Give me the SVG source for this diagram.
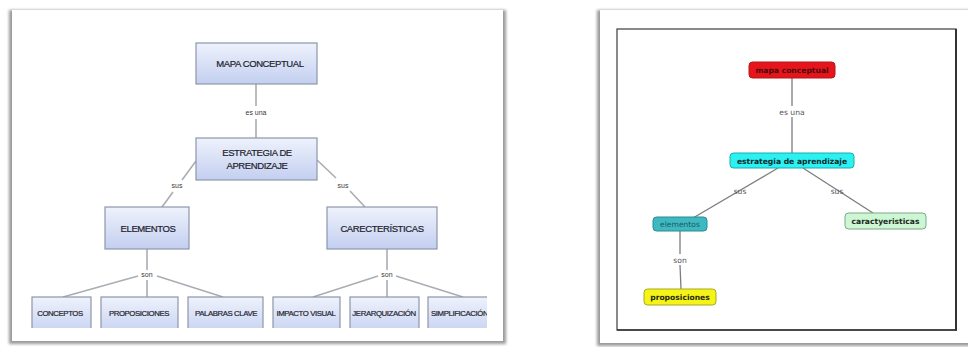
<svg xmlns="http://www.w3.org/2000/svg" width="968" height="347" viewBox="0 0 968 347">
  <defs>
    <linearGradient id="boxFill" x1="0" y1="0" x2="0" y2="1">
      <stop offset="0" stop-color="#eef2fc"/>
      <stop offset="1" stop-color="#c3cff0"/>
    </linearGradient>
    <filter id="cardShadow" x="-5%" y="-5%" width="110%" height="110%">
      <feGaussianBlur stdDeviation="1.6"/>
    </filter>
    <clipPath id="leftClip">
      <rect x="12" y="12" width="476" height="316"/>
    </clipPath>
    <clipPath id="simpClip">
      <rect x="427" y="296" width="60" height="32"/>
    </clipPath>
  </defs>
  <style>
    .card { fill: #ffffff; }
    .shadow { fill: #9a9a9a; filter: url(#cardShadow); }
    .box { fill: url(#boxFill); stroke: #8c97aa; stroke-width: 1.2; }
    .caps { font-family: "Liberation Sans", Arial, sans-serif; fill: #1e222c; stroke: #1e222c; stroke-width: 0.2; text-anchor: middle; letter-spacing: -0.4px; }
    .lbl { font-family: "Liberation Sans", Arial, sans-serif; font-size: 7px; fill: #3a3a3a; text-anchor: middle; }
    .link { stroke: #a9aeb3; stroke-width: 1.6; fill: none; }
    .cm { font-family: "DejaVu Sans", Verdana, sans-serif; font-weight: bold; font-size: 7.6px; text-anchor: middle; }
    .cmlbl { font-family: "DejaVu Sans", Verdana, sans-serif; font-size: 7.6px; fill: #555; text-anchor: middle; }
    .cmlink { stroke: #7d7d7d; stroke-width: 1.3; fill: none; }
  </style>

  <!-- white paper cards with soft edges -->
  <rect class="shadow" x="9" y="10" width="497" height="334"/>
  <rect class="card" x="12" y="10" width="491" height="331"/>
  <rect class="shadow" x="597" y="10" width="380" height="336"/>
  <rect class="card" x="600" y="10" width="368" height="333"/>

  <!-- LEFT: hierarchical concept map -->
  <g id="left-links" clip-path="url(#leftClip)">
    <line class="link" x1="256" y1="84" x2="256" y2="106"/>
    <line class="link" x1="256" y1="119" x2="256" y2="138"/>
    <line class="link" x1="196" y1="161" x2="182" y2="180"/>
    <line class="link" x1="173" y1="192" x2="162" y2="207"/>
    <line class="link" x1="317" y1="160" x2="336" y2="178"/>
    <line class="link" x1="350" y1="191" x2="365" y2="207"/>
    <line class="link" x1="147" y1="249" x2="147" y2="270"/>
    <line class="link" x1="147" y1="280" x2="147" y2="297"/>
    <line class="link" x1="138" y1="276" x2="63" y2="297"/>
    <line class="link" x1="157" y1="276" x2="223" y2="297"/>
    <line class="link" x1="387" y1="249" x2="387" y2="270"/>
    <line class="link" x1="387" y1="280" x2="387" y2="297"/>
    <line class="link" x1="378" y1="276" x2="313" y2="297"/>
    <line class="link" x1="396" y1="276" x2="463" y2="297"/>
  </g>
  <g id="left-link-labels">
    <text class="lbl" x="256" y="115">es una</text>
    <text class="lbl" x="177" y="188">sus</text>
    <text class="lbl" x="343" y="188">sus</text>
    <text class="lbl" x="147" y="277">son</text>
    <text class="lbl" x="387" y="277">son</text>
  </g>

  <g id="n-mapa">
    <rect class="box" x="196" y="43" width="121" height="41"/>
    <text class="caps" x="260" y="67" font-size="9.5">MAPA CONCEPTUAL</text>
  </g>
  <g id="n-estrategia">
    <rect class="box" x="196" y="138" width="121" height="42"/>
    <text class="caps" x="257" y="156" font-size="9.5">ESTRATEGIA DE</text>
    <text class="caps" x="257" y="169" font-size="9.5">APRENDIZAJE</text>
  </g>
  <g id="n-elementos">
    <rect class="box" x="105" y="207" width="84" height="42"/>
    <text class="caps" x="148" y="232" font-size="9.5">ELEMENTOS</text>
  </g>
  <g id="n-caracteristicas">
    <rect class="box" x="327" y="207" width="110" height="42"/>
    <text class="caps" x="382" y="232" font-size="9.5">CARECTERÍSTICAS</text>
  </g>

  <g clip-path="url(#leftClip)">
    <g id="n-conceptos">
      <rect class="box" x="32" y="297" width="59" height="40"/>
      <text class="caps" x="60" y="316" font-size="7.8">CONCEPTOS</text>
    </g>
    <g id="n-proposiciones">
      <rect class="box" x="101" y="297" width="77" height="40"/>
      <text class="caps" x="139" y="316" font-size="7.8">PROPOSICIONES</text>
    </g>
    <g id="n-palabras">
      <rect class="box" x="188" y="297" width="75" height="40"/>
      <text class="caps" x="226" y="316" font-size="7.8">PALABRAS CLAVE</text>
    </g>
    <g id="n-impacto">
      <rect class="box" x="273" y="297" width="67" height="40"/>
      <text class="caps" x="306" y="316" font-size="7.8">IMPACTO VISUAL</text>
    </g>
    <g id="n-jerarquizacion">
      <rect class="box" x="350" y="297" width="69" height="40"/>
      <text class="caps" x="384" y="316" font-size="7.8">JERARQUIZACIÓN</text>
    </g>
  </g>
  <g id="n-simplificacion" clip-path="url(#simpClip)">
    <rect class="box" x="428" y="297" width="70" height="40"/>
    <text class="caps" x="431" y="316" font-size="7.8" style="text-anchor:start">SIMPLIFICACIÓN</text>
  </g>

  <!-- RIGHT: coloured concept map inside a framed window -->
  <rect x="617" y="29" width="339" height="301" fill="#ffffff" stroke="#3c3c3c" stroke-width="1.2"/>
  <line x1="956" y1="29" x2="956" y2="330.5" stroke="#333" stroke-width="2"/>
  <line x1="617" y1="330" x2="957" y2="330" stroke="#333" stroke-width="1.6"/>

  <g id="right-links">
    <line class="cmlink" x1="792" y1="78" x2="792" y2="106"/>
    <line class="cmlink" x1="792" y1="117" x2="792" y2="153"/>
    <line class="cmlink" x1="778" y1="168" x2="693" y2="218"/>
    <line class="cmlink" x1="803" y1="168" x2="873" y2="213"/>
    <line class="cmlink" x1="680" y1="231" x2="680" y2="254"/>
    <line class="cmlink" x1="680" y1="265" x2="681" y2="289"/>
  </g>
  <g id="right-link-labels">
    <text class="cmlbl" x="792" y="115">es una</text>
    <text class="cmlbl" x="740" y="194">sus</text>
    <text class="cmlbl" x="837" y="194">sus</text>
    <text class="cmlbl" x="680" y="263">son</text>
  </g>

  <g id="c-mapa">
    <rect x="749" y="62" width="86" height="16" rx="3.5" fill="#e8141c" stroke="#b01818" stroke-width="1"/>
    <text class="cm" x="792" y="73" fill="#4a0808">mapa conceptual</text>
  </g>
  <g id="c-estrategia">
    <rect x="730" y="153" width="124" height="15" rx="3.5" fill="#2cf1f1" stroke="#1ca8b0" stroke-width="1"/>
    <text class="cm" x="792" y="163.5" fill="#0a2a2e">estrategia de aprendizaje</text>
  </g>
  <g id="c-elementos">
    <rect x="653" y="217" width="54" height="14" rx="3.5" fill="#3eb9c2" stroke="#2a8a92" stroke-width="1"/>
    <text class="cm" x="680" y="227" fill="#1e5a60" style="font-weight:normal">elementos</text>
  </g>
  <g id="c-caracteristicas">
    <rect x="845" y="213" width="81" height="16" rx="3.5" fill="#ccf6d4" stroke="#7aa884" stroke-width="1"/>
    <text class="cm" x="885.5" y="224" fill="#1e2a22">caractyeristicas</text>
  </g>
  <g id="c-proposiciones">
    <rect x="644" y="289" width="72" height="16" rx="3.5" fill="#f4f418" stroke="#a8a820" stroke-width="1"/>
    <text class="cm" x="680" y="300" fill="#2a2a08">proposiciones</text>
  </g>
</svg>
